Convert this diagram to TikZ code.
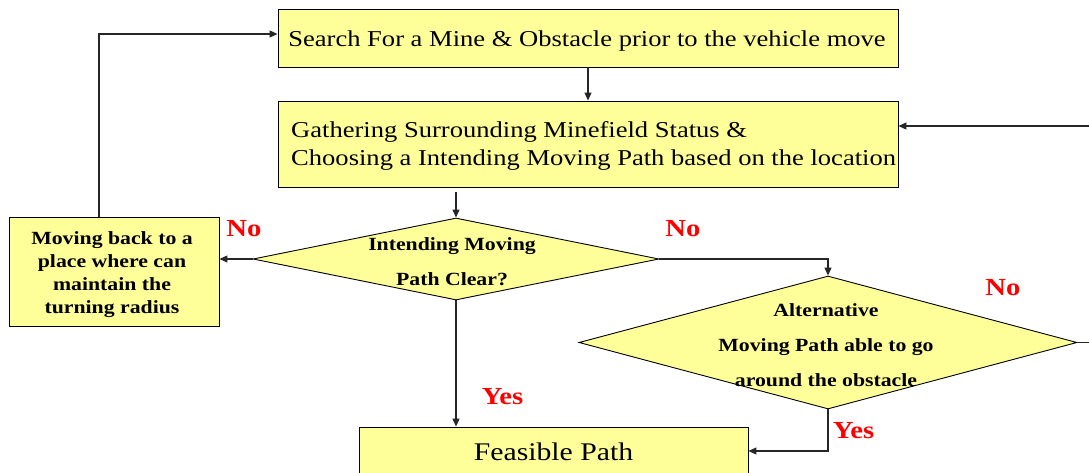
\documentclass[tikz,border=0pt]{standalone}
\usepackage{fontspec}
\setmainfont{Liberation Serif}[FakeStretch=1.17]
\usetikzlibrary{shapes.geometric,arrows.meta}
\definecolor{boxyellow}{HTML}{FFFF99}
\definecolor{lblred}{HTML}{FF0000}
\begin{document}
\begin{tikzpicture}[x=1pt,y=-1pt,
  box/.style={draw=black, line width=0.9pt, fill=boxyellow, inner sep=0pt},
  dia/.style={diamond, draw=black, line width=0.9pt, fill=boxyellow, inner sep=0pt},
  bigtext/.style={font=\fontsize{22.7}{28}\selectfont, inner sep=0pt},
  diatext/.style={font=\bfseries\fontsize{18.6}{35}\selectfont, align=center, inner sep=0pt},
  lbtext/.style={font=\bfseries\fontsize{18.6}{23}\selectfont, align=center, inner sep=0pt},
  lbl/.style={text=lblred, font=\bfseries\fontsize{24.5}{28}\selectfont, inner sep=0pt},
  arr/.style={draw=black!85, line width=1.1pt, -{Triangle[length=8pt,width=7pt]}}]
\useasboundingbox (0,0) rectangle (1089,473);
\clip (0,0) rectangle (1089,473);

% boxes
\node[box, minimum width=620pt, minimum height=57.5pt] (top) at (588,38.3) {};
\node[bigtext] (topt) at (587,41.5)
  {Search For a Mine \& Obstacle prior to the vehicle move};
\node[box, minimum width=620pt, minimum height=86pt] (box2) at (588,144) {};
\node[bigtext, align=left, anchor=west] (box2t) at (291,146)
  {Gathering Surrounding Minefield Status \&\\Choosing a Intending Moving Path based on the location};
\node[box, minimum width=210pt, minimum height=109pt] (lb) at (114,271.5) {};
\node[lbtext] (lbt) at (112,274.5)
  {Moving back to a\\place where can\\maintain the\\turning radius};
\node[box, minimum width=389pt, minimum height=49pt, font=\fontsize{25.4}{30}\selectfont] (fp) at (553.5,451.5)
  {Feasible Path};

% decisions
\node[dia, minimum width=406pt, minimum height=82pt] (d1) at (456,259) {};
\node[diatext] (d1t) at (452,262) {Intending Moving\\Path Clear?};
\node[dia, minimum width=498pt, minimum height=133pt] (d2) at (828,342.5) {};
\node[diatext] (d2t) at (826,345) {Alternative\\Moving Path able to go\\around the obstacle};

% labels
\node[lbl] (no1) at (244,229) {No};
\node[lbl] (no2) at (683,229) {No};
\node[lbl] (no3) at (1003,288) {No};
\node[lbl] (yes1) at (502.5,397) {Yes};
\node[lbl] (yes2) at (853.5,430.5) {Yes};

% helper coordinates
\coordinate (lt) at (99,34);
\coordinate (rr) at (1100,126);
\coordinate (yb) at (828,451);

% connectors
\draw[arr] (top.south) -- (box2.north);
\draw[arr, shorten <=5pt] (box2.south -| d1.north) -- (d1.north);
\draw[arr] (d1.west) -- (lb.east |- d1.west);
\draw[arr] (lb.north -| lt) -- (lt) -- (lt -| top.west);
\draw[arr] (d1.south) -- (fp.north -| d1.south);
\draw[arr] (d1.east) -| (d2.north);
\draw[arr] (d2.south) -- (yb) -- (yb -| fp.east);
\draw[arr] (d2.east) -- (d2.east -| rr) -- (rr) -- (rr -| box2.east);
\end{tikzpicture}
\end{document}
